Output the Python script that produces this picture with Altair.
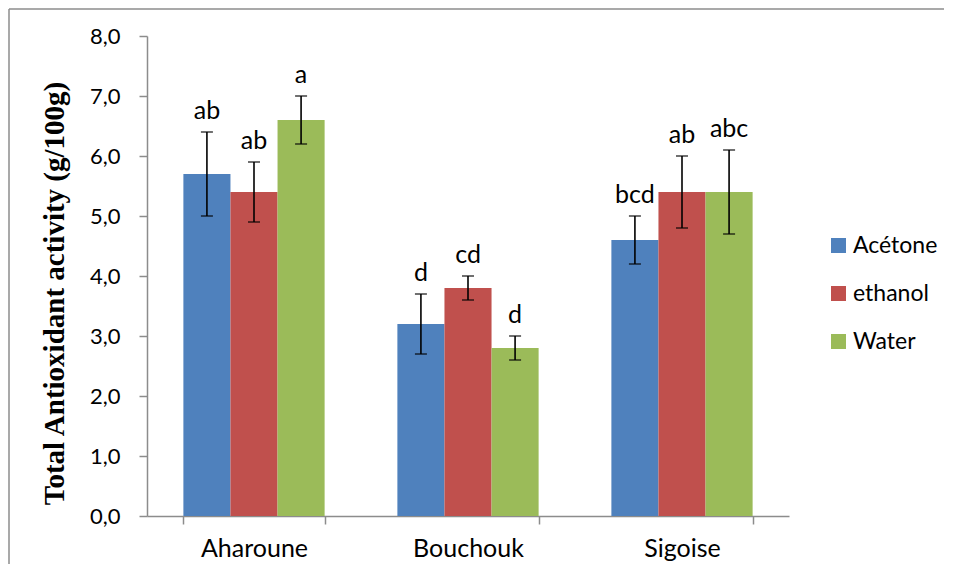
import altair as alt
import pandas as pd

cultivars = ["Aharoune", "Bouchouk", "Sigoise"]
solvents = ["Acétone", "ethanol", "Water"]
acetone_mean = [5.7, 3.2, 4.6]
ethanol_mean = [5.4, 3.8, 5.4]
water_mean = [6.6, 2.8, 5.4]
acetone_err = [0.7, 0.5, 0.4]
ethanol_err = [0.5, 0.2, 0.6]
water_err = [0.4, 0.2, 0.7]
acetone_letters = ["ab", "d", "bcd"]
ethanol_letters = ["ab", "cd", "ab"]
water_letters = ["a", "d", "abc"]
colors = ["#4F81BD", "#C0504D", "#9BBB59"]
y_ticks = [0, 1, 2, 3, 4, 5, 6, 7, 8]

rows = []
for s, means, errs, lets in zip(
    solvents,
    [acetone_mean, ethanol_mean, water_mean],
    [acetone_err, ethanol_err, water_err],
    [acetone_letters, ethanol_letters, water_letters],
):
    for c, m, e, l in zip(cultivars, means, errs, lets):
        rows.append(dict(cultivar=c, solvent=s, value=m, lo=m - e, hi=m + e, letter=l))
df = pd.DataFrame(rows)

W, H = 642, 480
FONT = "Lato"
GREY = "#8c8c8c"

x_enc = alt.X(
    "cultivar:N",
    sort=cultivars,
    scale=alt.Scale(paddingInner=0.34, paddingOuter=0.17),
    axis=alt.Axis(
        title=None, labelAngle=0, tickBand="extent", domainColor=GREY, tickColor=GREY,
        tickSize=8, labelFont=FONT, labelFontSize=25, labelColor="black", labelPadding=12,
        domainWidth=1.5, tickWidth=1.5, grid=False,
    ),
)
xoff = alt.XOffset("solvent:N", sort=solvents, scale=alt.Scale(paddingInner=0, paddingOuter=0))
yscale = alt.Scale(domain=[0, 8], nice=False)
y_axis = alt.Axis(
    values=y_ticks,
    labelExpr="replace(format(datum.value, '.1f'), '.', ',')",
    grid=False, domainColor=GREY, tickColor=GREY, tickSize=8, domainWidth=1.5, tickWidth=1.5,
    labelFont=FONT, labelFontSize=22, labelColor="black", labelPadding=19,
    title="Total Antioxidant activity (g/100g)", titleFont="Liberation Serif",
    titleFontWeight="bold", titleFontSize=29, titleColor="black", titlePadding=20,
    titleY=257,
)

base = alt.Chart(df)

bars = base.mark_bar().encode(
    x=x_enc,
    xOffset=xoff,
    y=alt.Y("value:Q", scale=yscale, axis=y_axis),
    color=alt.Color(
        "solvent:N", sort=solvents, scale=alt.Scale(domain=solvents, range=colors),
        legend=alt.Legend(
            title=None, orient="none", legendX=680, legendY=198, symbolType="square",
            symbolSize=225, symbolStrokeWidth=0, labelFont=FONT, labelFontSize=23,
            labelColor="black", rowPadding=24, labelOffset=3, padding=0,
        ),
    ),
)

err = base.mark_rule(color="black", strokeWidth=1.6).encode(
    x=x_enc, xOffset=xoff, y=alt.Y("lo:Q", scale=yscale), y2="hi:Q"
)
cap_hi = base.mark_tick(color="black", thickness=1.6, size=12).encode(
    x=x_enc, xOffset=xoff, y=alt.Y("hi:Q", scale=yscale)
)
cap_lo = base.mark_tick(color="black", thickness=1.6, size=12).encode(
    x=x_enc, xOffset=xoff, y=alt.Y("lo:Q", scale=yscale)
)
letters = base.mark_text(font=FONT, fontSize=25, color="black", baseline="alphabetic", dy=-13).encode(
    x=x_enc, xOffset=xoff, y=alt.Y("hi:Q", scale=yscale), text="letter:N"
)

frame_df = pd.DataFrame({"k": [0]})
frame_left = alt.Chart(frame_df).mark_rule(color=GREY, strokeWidth=1.5).encode(
    x=alt.value(-138), x2=alt.value(-138), y=alt.value(-27), y2=alt.value(H + 48)
)
frame_top = alt.Chart(frame_df).mark_rule(color=GREY, strokeWidth=1.5).encode(
    x=alt.value(-138), x2=alt.value(W + 155), y=alt.value(-27), y2=alt.value(-27)
)

chart = (
    alt.layer(bars, err, cap_hi, cap_lo, letters, frame_left, frame_top)
    .properties(width=W, height=H, padding=0, background="white")
    .configure_view(stroke="transparent", strokeWidth=0)
)

chart.save("out.html", embed_options={"renderer": "svg", "actions": False})
